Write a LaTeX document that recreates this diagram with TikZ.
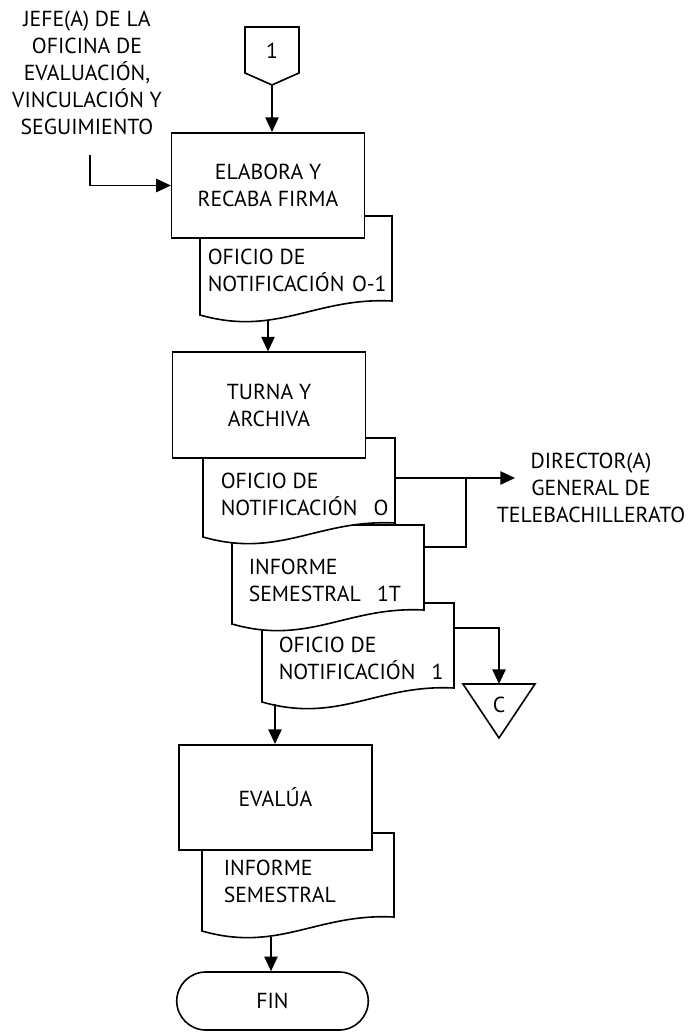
\documentclass[tikz,border=0pt]{standalone}
\usepackage{fontspec}
\setmainfont{PT Sans}
\usetikzlibrary{arrows.meta, positioning}

\begin{document}
\begin{tikzpicture}[x=0.75pt, y=-0.75pt, line width=1.2pt, font=\fontsize{16.3}{20.25}\selectfont,
	proc/.style={shape=rectangle, draw, fill=white, minimum width=5.08cm, minimum height=2.78cm, align=center},
	docline/.style={draw, fill=white},
	doctext/.style={anchor=west, align=left, inner sep=0pt},
	flow/.style={-{Triangle[length=11pt, width=10pt]}}]
	\useasboundingbox (0,0) rectangle (689,1034);
	% Actor and off-page connector:
	\node[align=center] (jefe) at (87,73) {JEFE(A) DE LA\\OFICINA DE\\EVALUACIÓN,\\VINCULACIÓN Y\\SEGUIMIENTO};
	\coordinate (jefe-out) at (90,155);
	\draw (245,27) -- (299,27) -- (299,73) -- (272,85) -- (245,73) -- cycle;
	\node (con1) at (272,51) {1};
	\coordinate (con1-tip) at (272,85);

	% Step 1:
	\draw[docline] (200,216) -- (392,216) -- (392,301) .. controls (315,297) and (277,337) .. (200,315) -- cycle;
	\node[proc] (elabora) at (268,185.5) {ELABORA Y\\RECABA FIRMA};
	\node[doctext] (oficio1) at (207,270.5) {OFICIO DE\\NOTIFICACIÓN\hspace{0.35em}O-1};
	\coordinate (oficio1-out) at (268,321);

	% Step 2:
	\draw[docline] (262,603) -- (454,603) -- (454,688) .. controls (377,684) and (339,724) .. (262,702) -- cycle;
	\draw[docline] (232,525) -- (424,525) -- (424,610) .. controls (347,606) and (309,646) .. (232,624) -- cycle;
	\draw[docline] (203,438) -- (395,438) -- (395,523) .. controls (318,519) and (280,559) .. (203,537) -- cycle;
	\node[proc] (turna) at (269,405) {TURNA Y\\ARCHIVA};
	\node[doctext] (oficio2) at (220,494.5) {OFICIO DE\\NOTIFICACIÓN\hspace{0.75em}O};
	\node[doctext] (informe1) at (248,580.5) {INFORME\\SEMESTRAL\hspace{0.75em}1T};
	\node[doctext] (oficio3) at (278,658.5) {OFICIO DE\\NOTIFICACIÓN\hspace{0.75em}1};
	\coordinate (oficio2-out) at (395,478);
	\coordinate (informe1-out) at (424,547);
	\coordinate (oficio3-out) at (454,628);
	\coordinate (oficio3-bottom) at (275,704);

	\node[align=center] (director) at (591,488) {DIRECTOR(A)\\GENERAL DE\\TELEBACHILLERATO};
	\coordinate (director-in) at (515,478);
	\coordinate (join) at (466,478);

	\draw (463,684) -- (535,684) -- (499,738) -- cycle;
	\node (archivo) at (499,705) {C};
	\coordinate (archivo-in) at (499,684);

	% Step 3:
	\draw[docline] (202,833) -- (394,833) -- (394,917) .. controls (317,913) and (279,953) .. (202,931) -- cycle;
	\node[proc] (evalua) at (275.5,797.5) {EVALÚA};
	\node[doctext] (informe2) at (223,881.5) {INFORME\\SEMESTRAL};
	\coordinate (informe2-out) at (271,937);

	\node[shape=rectangle, draw, rounded corners=0.77cm, minimum width=5.05cm, minimum height=1.53cm] (fin) at (272.5,1001) {FIN};

	% Wires:
	\draw[flow] (jefe-out) |- (elabora.west);
	\draw[flow] (con1-tip) -- (con1-tip |- elabora.north);
	\draw[flow] (oficio1-out) -- (oficio1-out |- turna.north);
	\draw[flow] (oficio2-out) -- (director-in);
	\draw (informe1-out) -| (join);
	\draw[flow] (oficio3-out) -| (archivo-in);
	\draw[flow] (oficio3-bottom) -- (oficio3-bottom |- evalua.north);
	\draw[flow] (informe2-out) -- (informe2-out |- fin.north);
\end{tikzpicture}
\end{document}
